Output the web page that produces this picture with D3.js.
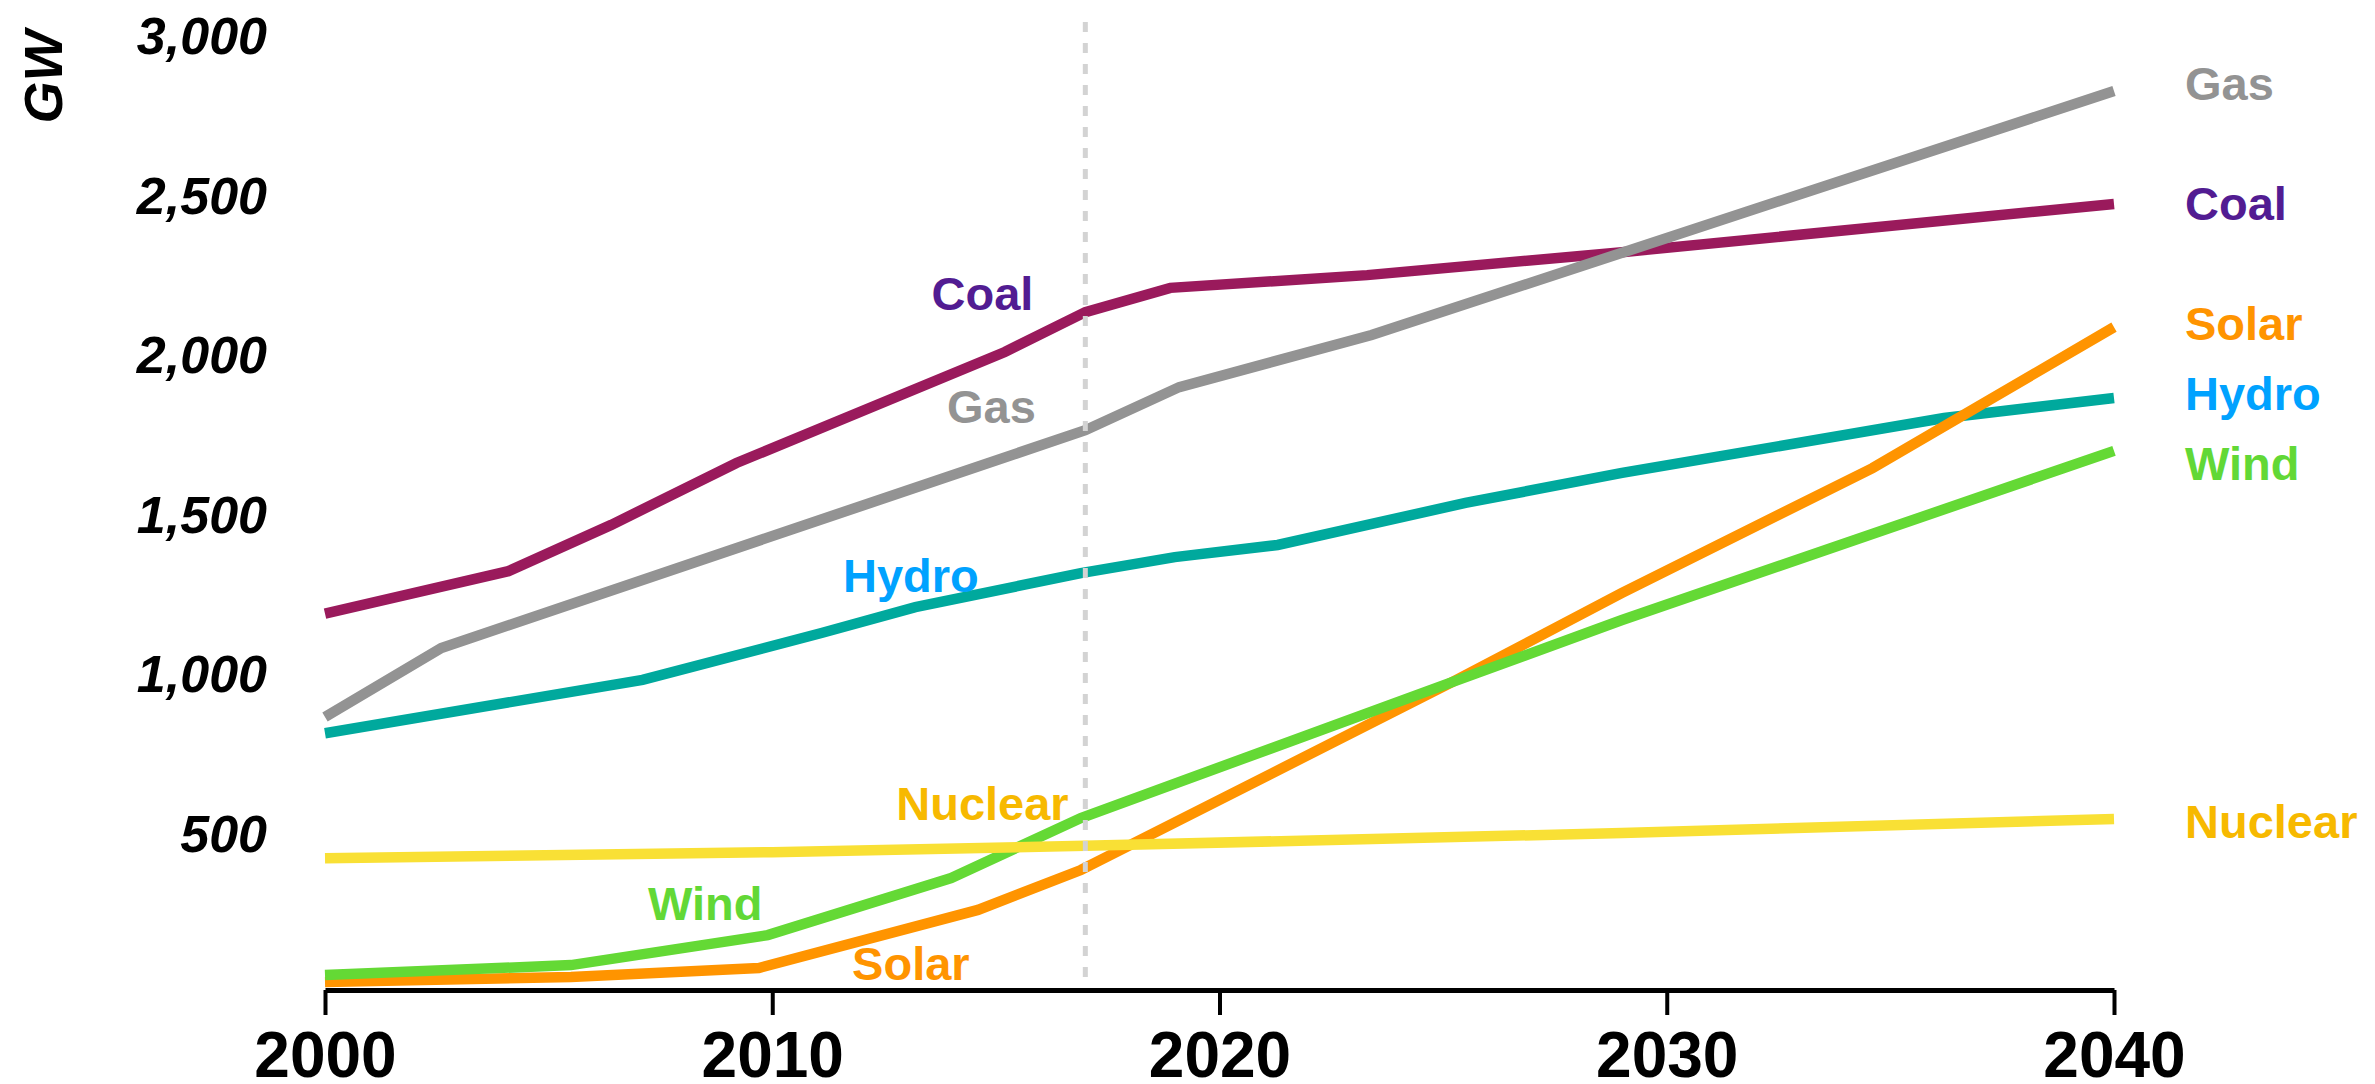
<!DOCTYPE html>
<html>
<head>
<meta charset="utf-8">
<script src="https://cdn.jsdelivr.net/npm/d3@7"></script>
<style>
  html, body { margin: 0; padding: 0; background: #ffffff; }
  svg { display: block; font-family: "Liberation Sans", Arial, Helvetica, sans-serif; }
</style>
</head>
<body>
<svg id="chart" width="2375" height="1084"></svg>
<script>
// ---------------- data ----------------
const coalYears    = [2000, 2004.1, 2006.4, 2009.2, 2015.2, 2017, 2018.9, 2023.3, 2029, 2040];
const coalValues   = [1180, 1313, 1458, 1652, 2000, 2125, 2201, 2241, 2313, 2464];

const gasYears     = [2000, 2002.6, 2017, 2019.1, 2023.4, 2040];
const gasValues    = [856, 1072, 1755, 1890, 2053, 2818];

const hydroYears   = [2000, 2007.1, 2011.1, 2013.2, 2016.9, 2019.0, 2021.3, 2025.5, 2029, 2036.2, 2040];
const hydroValues  = [805, 972, 1119, 1200, 1307, 1357, 1395, 1527, 1621, 1793, 1856];

const nuclearYears  = [2000, 2010, 2017, 2029, 2040];
const nuclearValues = [413, 432, 452, 492, 536];

const windYears    = [2000, 2005.5, 2009.9, 2014.0, 2016.9, 2025.2, 2029, 2040];
const windValues   = [47, 78, 172, 351, 539, 965, 1160, 1690];

const solarYears   = [2000, 2005.5, 2009.7, 2014.6, 2016.9, 2025.2, 2029, 2034.6, 2040];
const solarValues  = [25, 41, 69, 251, 376, 965, 1245, 1636, 2078];

const xTicks = [2000, 2010, 2020, 2030, 2040];
const yTicks = [500, 1000, 1500, 2000, 2500, 3000];
const yAxisTitle = "GW";
const dividerYear = 2017;

// series names, draw order (bottom to top)
const seriesNames = ["Coal", "Gas", "Hydro", "Solar", "Wind", "Nuclear"];

// ---------------- styles ----------------
const lineColor = { Coal: "#9a1a5c", Gas: "#939393", Hydro: "#00a99d", Nuclear: "#f9e035", Wind: "#64d935", Solar: "#ff9400" };
const labelColor = { Coal: "#521c92", Gas: "#939393", Hydro: "#00a2ff", Nuclear: "#f7b900", Wind: "#62d836", Solar: "#ff9400" };

// inline label anchors (in data coordinates: year, value at baseline)
const inlineLabelPos = {
  Coal: [2014.7, 2132], Gas: [2014.9, 1777], Hydro: [2013.1, 1248],
  Nuclear: [2014.7, 533], Wind: [2008.5, 219], Solar: [2013.1, 31]
};
// right-hand label baselines (value units)
const rightLabelPos = { Gas: 2790, Coal: 2414, Solar: 2038, Hydro: 1818, Wind: 1599, Nuclear: 476 };

const seriesData = {
  Coal: d3.zip(coalYears, coalValues),
  Gas: d3.zip(gasYears, gasValues),
  Hydro: d3.zip(hydroYears, hydroValues),
  Nuclear: d3.zip(nuclearYears, nuclearValues),
  Wind: d3.zip(windYears, windValues),
  Solar: d3.zip(solarYears, solarValues)
};

// ---------------- chart ----------------
const svg = d3.select("#chart");
svg.append("rect").attr("width", 2375).attr("height", 1084).attr("fill", "#ffffff");

const x = d3.scaleLinear().domain([2000, 2040]).range([325, 2114]);
const y = d3.scaleLinear().domain([0, 3000]).range([990, 33]);

// y axis (labels only)
const yAxis = svg.append("g")
  .attr("transform", "translate(267,0)")
  .call(d3.axisLeft(y).tickValues(yTicks).tickSize(0).tickPadding(0).tickFormat(d3.format(",")));
yAxis.select(".domain").remove();
yAxis.selectAll("text")
  .attr("x", 0)
  .attr("dy", "0.40em")
  .attr("fill", "#000")
  .style("font-size", "52px")
  .style("font-weight", "bold")
  .style("font-style", "italic")
  .style("font-family", "'Liberation Sans', Arial, sans-serif");

// y axis title
svg.append("text")
  .attr("transform", "translate(62,77) rotate(-90)")
  .attr("text-anchor", "middle")
  .style("font-size", "54px")
  .style("font-weight", "bold")
  .style("font-style", "italic")
  .attr("fill", "#000")
  .text(yAxisTitle);

// lines
const line = d3.line().x(d => x(d[0])).y(d => y(d[1]));
svg.append("g").selectAll("path")
  .data(seriesNames)
  .join("path")
  .attr("d", n => line(seriesData[n]))
  .attr("fill", "none")
  .attr("stroke", n => lineColor[n])
  .attr("stroke-width", 10.5)
  .attr("stroke-linejoin", "miter")
  .attr("stroke-linecap", "butt");

// x axis
const xAxis = svg.append("g")
  .attr("transform", "translate(0,990)")
  .call(d3.axisBottom(x).tickValues(xTicks).tickSize(25).tickSizeOuter(0).tickFormat(d3.format("d")));
xAxis.select(".domain").attr("stroke", "#000").attr("stroke-width", 5);
xAxis.selectAll(".tick line").attr("stroke", "#000").attr("stroke-width", 4);
xAxis.selectAll("text")
  .attr("y", 87)
  .attr("dy", 0)
  .attr("fill", "#000")
  .style("font-size", "64px")
  .style("font-weight", "bold")
  .style("font-family", "'Liberation Sans', Arial, sans-serif");

// divider (dashed) line at base year
svg.append("line")
  .attr("x1", x(dividerYear)).attr("x2", x(dividerYear))
  .attr("y1", 22).attr("y2", 988)
  .attr("stroke", "#d3d3d3")
  .attr("stroke-width", 5)
  .attr("stroke-dasharray", "10,11");

// inline labels
svg.append("g").selectAll("text")
  .data(seriesNames)
  .join("text")
  .attr("x", n => x(inlineLabelPos[n][0]))
  .attr("y", n => y(inlineLabelPos[n][1]))
  .attr("text-anchor", "middle")
  .attr("fill", n => labelColor[n])
  .style("font-size", "47px")
  .style("font-weight", "bold")
  .text(n => n);

// right labels
svg.append("g").selectAll("text")
  .data(seriesNames)
  .join("text")
  .attr("x", x(2040) + 71)
  .attr("y", n => y(rightLabelPos[n]))
  .attr("text-anchor", "start")
  .attr("fill", n => labelColor[n])
  .style("font-size", "47px")
  .style("font-weight", "bold")
  .text(n => n);
</script>
</body>
</html>
